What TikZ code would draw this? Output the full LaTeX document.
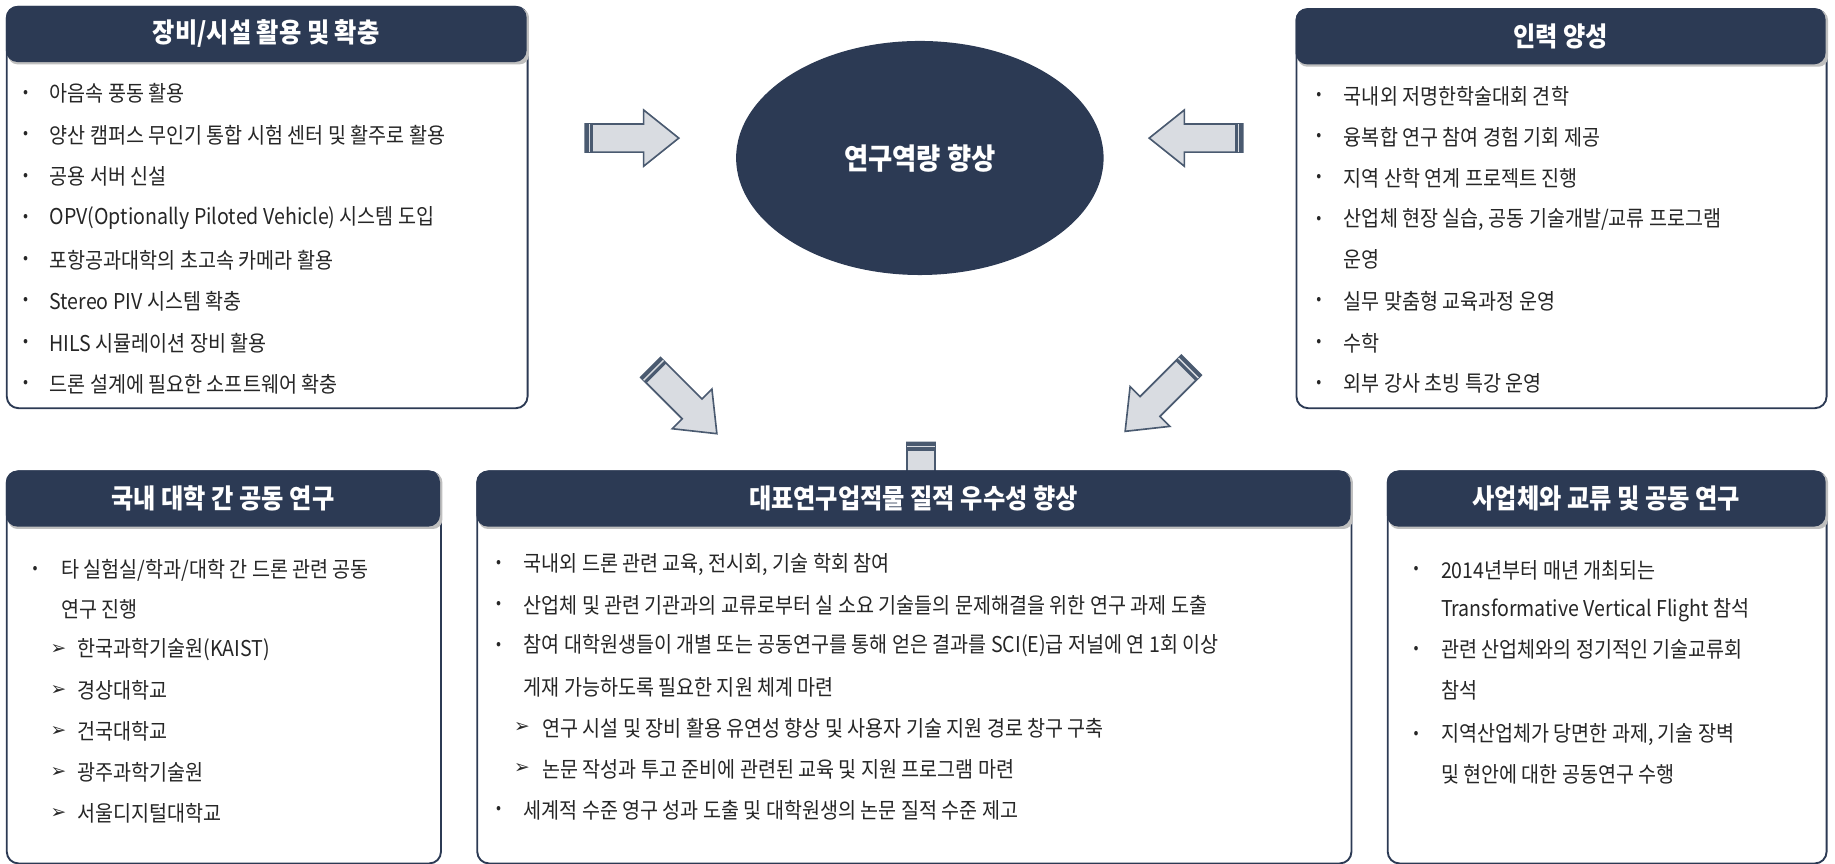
\documentclass[tikz,border=0pt]{standalone}
\usepackage{fontspec}
\setmainfont{Noto Sans CJK KR}[FakeStretch=0.9]
\newfontfamily\symf{DejaVu Sans}
\usetikzlibrary{shapes.geometric}
\definecolor{navy}{HTML}{2C3A54}
\definecolor{afill}{HTML}{D9DCE1}
\definecolor{aline}{HTML}{4A5A70}
\begin{document}
\begin{tikzpicture}[x=0.5pt,y=-0.5pt,
  box/.style={draw=navy,line width=0.8pt,rounded corners=5pt,fill=white},
  head/.style={fill=navy,rounded corners=5pt},
  htxt/.style={text=white,font=\fontsize{11.5}{13}\selectfont\bfseries},
  it/.style={anchor=west,inner sep=0pt,font=\fontsize{9.3}{11}\selectfont,text=black!85},
  bul/.style={anchor=center,inner sep=0pt,font=\fontsize{7}{8}\selectfont,text=black!85},
  chk/.style={anchor=center,inner sep=0pt,font=\symf\fontsize{8}{9}\selectfont,text=black!85},
  arr/.pic={
    \draw[fill=afill,draw=aline,line width=0.7pt] (0,-12)--(50,-12)--(50,-24)--(80,0)--(50,24)--(50,12)--(0,12)--cycle;
    \fill[aline] (0,-12) rectangle (7,12);
    \draw[afill,line width=0.6pt] (3.5,-12)--(3.5,12);
  }]
\useasboundingbox (0,0) rectangle (1568,738);
% ellipse
\node[ellipse,fill=navy,minimum width=157pt,minimum height=100pt,text=white,font=\fontsize{12.5}{14}\selectfont\bfseries] (c) at (786,135) {연구역량 향상};
% arrows
\pic at (500,118) {arr};
\pic[rotate=180] at (1062,118) {arr};
\pic[rotate=-45] at (556,314) {arr};
\pic[rotate=-135] at (1018,312) {arr};
\pic[rotate=-90] at (787,378) {arr};
% shadow helper
\newcommand{\mybox}[6]{%
 \node[box,minimum width={(#3-#1)*0.5pt},minimum height={(#4-#2)*0.5pt},anchor=north west] (#6) at (#1,#2) {};
 \fill[black!25,rounded corners=4pt] (#1+2,#2+2) rectangle (#3+2,#2+50);
 \fill[head] (#1,#2) rectangle (#3,#2+48);
 \node[htxt] (#6h) at ({(#1+#3)/2},#2+24) {#5};}
\mybox{5}{5}{450}{348}{장비/시설 활용 및 확충}{b1}
\mybox{1107}{7}{1560}{348}{인력 양성}{b2}
\mybox{5}{402}{376}{737}{국내 대학 간 공동 연구}{b3}
\mybox{407}{402}{1154}{737}{대표연구업적물 질적 우수성 향상}{b4}
\mybox{1185}{402}{1560}{737}{사업체와 교류 및 공동 연구}{b5}
% box1 items
\foreach \t [count=\i] in {아음속 풍동 활용,양산 캠퍼스 무인기 통합 시험 센터 및 활주로 활용,공용 서버 신설,OPV(Optionally Piloted Vehicle) 시스템 도입,포항공과대학의 초고속 카메라 활용,Stereo PIV 시스템 확충,HILS 시뮬레이션 장비 활용,드론 설계에 필요한 소프트웨어 확충}{
  \node[bul] (b1d\i) at (22,{80+35.5*(\i-1)}) {•};
  \node[it] (b1t\i) at (42,{80+35.5*(\i-1)}) {\t};}
% box2
\foreach \y/\t [count=\i] in {82/국내외 저명한학술대회 견학/참석 기회 제공,117/융복합 연구 참여 경험 기회 제공,152/지역 산학 연계 프로젝트 진행,188/{산업체 현장 실습, 공동 기술개발/교류 프로그램},257/실무 맞춤형 교육과정 운영,293/수학/통계 분야 박사후연구원 채용,328/외부 강사 초빙 특강 운영}{
  \node[bul] (b2d\i) at (1127,\y) {•};
  \node[it] (b2t\i) at (1148,\y) {\t};}
\node[it] (b2c) at (1148,222) {운영};
% box3
\node[bul] (b3d1) at (30,487) {•};
\node[it] (b3t1) at (52,487) {타 실험실/학과/대학 간 드론 관련 공동};
\node[it] (b3c) at (52,521) {연구 진행};
\foreach \y/\t [count=\i] in {555/한국과학기술원(KAIST),590/경상대학교,625/건국대학교,660/광주과학기술원,695/서울디지털대학교}{
  \node[chk] (b3k\i) at (50,\y) {➢};
  \node[it] (b3s\i) at (66,\y) {\t};}
% box4
\foreach \y/\t [count=\i] in {482/{국내외 드론 관련 교육, 전시회, 기술 학회 참여},517/산업체 및 관련 기관과의 교류로부터 실 소요 기술들의 문제해결을 위한 연구 과제 도출,552/참여 대학원생들이 개별 또는 공동연구를 통해 얻은 결과를 SCI(E)급 저널에 연 1회 이상,692/세계적 수준 영구 성과 도출 및 대학원생의 논문 질적 수준 제고}{
  \node[bul] (b4d\i) at (426,\y) {•};
  \node[it] (b4t\i) at (447,\y) {\t};}
\node[it] (b4c) at (447,587) {게재 가능하도록 필요한 지원 체계 마련};
\node[chk] (b4k1) at (446,622) {➢};
\node[it] (b4s1) at (463,622) {연구 시설 및 장비 활용 유연성 향상 및 사용자 기술 지원 경로 창구 구축};
\node[chk] (b4k2) at (446,657) {➢};
\node[it] (b4s2) at (463,657) {논문 작성과 투고 준비에 관련된 교육 및 지원 프로그램 마련};
% box5
\node[bul] (b5d1) at (1210,487) {•};
\node[it] (b5t1) at (1231,487) {2014년부터 매년 개최되는};
\node[it] (b5c1) at (1231,521) {Transformative Vertical Flight 참석};
\node[bul] (b5d2) at (1210,555) {•};
\node[it] (b5t2) at (1231,555) {관련 산업체와의 정기적인 기술교류회};
\node[it] (b5c2) at (1231,590) {참석};
\node[bul] (b5d3) at (1210,628) {•};
\node[it] (b5t3) at (1231,628) {지역산업체가 당면한 과제, 기술 장벽};
\node[it] (b5c3) at (1231,662) {및 현안에 대한 공동연구 수행};
\end{tikzpicture}
\end{document}
